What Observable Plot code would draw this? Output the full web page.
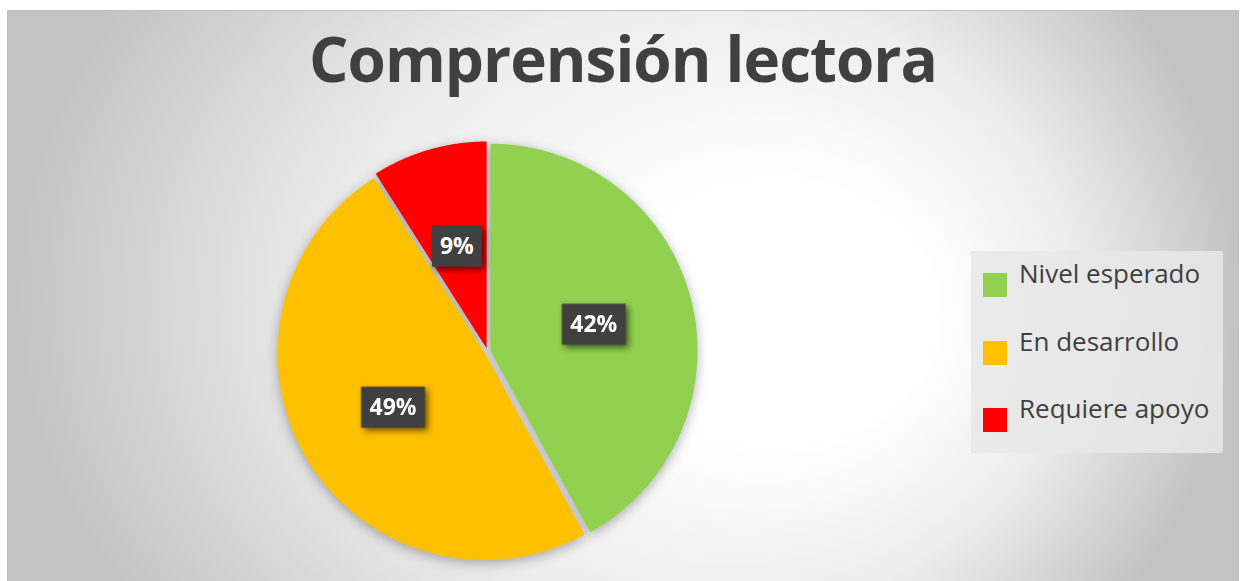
<!DOCTYPE html>
<html><head><meta charset="utf-8">
<script src="https://cdn.jsdelivr.net/npm/d3@7"></script>
<script src="https://cdn.jsdelivr.net/npm/@observablehq/plot@0.6"></script>
<style>
body{margin:0;width:1244px;height:581px;overflow:hidden;background:#fff;font-family:"Open Sans",sans-serif;position:relative}
#bg{position:absolute;left:7px;top:10px;}
#title{position:absolute;left:7px;width:1232px;top:27px;text-align:center;font-size:62px;line-height:1;font-weight:700;color:#404040;letter-spacing:-1px;white-space:nowrap}
#chart{position:absolute;left:267px;top:131px}
#chart g[aria-label="geo"]{filter:drop-shadow(0 3px 6px rgba(0,0,0,0.3))}
#chart g[aria-label="dot"]{filter:drop-shadow(3px 3px 3px rgba(0,0,0,0.55))}
#legend{position:absolute;left:971px;top:251px;width:252px;height:202px;background:rgba(232,232,232,0.85)}
.li{position:absolute;left:0;width:252px;height:30px}
.sw{position:absolute;left:12px;width:24px;height:24px}
.lt{position:absolute;left:48px;font-size:26px;line-height:1;color:#404040;white-space:nowrap}
</style>
</head><body>
<svg id="bg" width="1232" height="575">
  <defs>
    <radialGradient id="g" gradientUnits="userSpaceOnUse" cx="0" cy="0" r="1" fx="0.342" fy="0.05"
      gradientTransform="translate(616 285) scale(616 520)">
      <stop offset="0" stop-color="#ffffff"/>
      <stop offset="0.25" stop-color="#ffffff"/>
      <stop offset="0.6" stop-color="#ececec"/>
      <stop offset="1" stop-color="#c3c3c3"/>
    </radialGradient>
  </defs>
  <rect x="0.5" y="0.5" width="1231" height="574" fill="url(#g)" stroke="#bfbfbf"/>
</svg>
<div id="title">Comprensión lectora</div>
<div id="chart"></div>
<div id="legend"></div>
<script>
// ---- data ----
const categories = ["Nivel esperado", "En desarrollo", "Requiere apoyo"];
const values = [42, 49, 9];
const labels = ["42%", "49%", "9%"];
const colors = ["#92d050", "#ffc000", "#ff0000"];

// ---- build slices from the values ----
const rows = categories.map((c, i) => ({cat: c, value: values[i], label: labels[i]}));
const arcs = d3.pie().sort(null).value(d => d.value)(rows);
const explode = 0.015;
const features = arcs.map(a => {
  const m = (a.startAngle + a.endAngle) / 2;
  const ox = explode * Math.sin(m), oy = -explode * Math.cos(m);
  const ring = [[ox, oy]];
  const n = Math.max(4, Math.ceil((a.endAngle - a.startAngle) / (Math.PI / 360)));
  for (let k = 0; k <= n; ++k) {
    const t = a.startAngle + (a.endAngle - a.startAngle) * k / n;
    ring.push([ox + Math.sin(t), oy - Math.cos(t)]);
  }
  ring.push([ox, oy]);
  return {type: "Feature", properties: {cat: a.data.cat}, geometry: {type: "Polygon", coordinates: [ring]}};
});
const labelRows = arcs.map(a => {
  const m = (a.startAngle + a.endAngle) / 2;
  const rr = 0.515 + explode;
  return {label: a.data.label, x: rr * Math.sin(m), y: -rr * Math.cos(m)};
});
const boxSym = w => ({draw(ctx) { ctx.rect(-w / 2, -20.5, w, 41); }});
const D = 220 / 207;

const plot = Plot.plot({
  width: 440, height: 440, margin: 0,
  style: {background: "transparent", overflow: "visible"},
  projection: {type: "identity", domain: {type: "MultiPoint", coordinates: [[-D, -D], [D, D]]}},
  color: {domain: categories, range: colors},
  marks: [
    Plot.geo(features, {fill: d => d.properties.cat, stroke: "none"}),
    Plot.dot(labelRows.filter(d => d.label.length > 2), {x: "x", y: "y", symbol: boxSym(64), r: 10, fill: "#404040", stroke: "none"}),
    Plot.dot(labelRows.filter(d => d.label.length <= 2), {x: "x", y: "y", symbol: boxSym(50), r: 10, fill: "#404040", stroke: "none"}),
    Plot.text(labelRows, {x: "x", y: "y", text: "label", fill: "white", fontSize: 23, fontWeight: "bold", fontFamily: "Open Sans"})
  ]
});
document.getElementById("chart").appendChild(plot);

// ---- legend ----
const lg = document.getElementById("legend");
categories.forEach((c, i) => {
  const item = document.createElement("div");
  item.className = "li";
  item.style.top = (22 + i * 67.5) + "px";
  item.innerHTML = `<div class="sw" style="top:0;background:${colors[i]}"></div><div class="lt" style="top:-13px">${c}</div>`;
  lg.appendChild(item);
});
</script>
</body></html>
